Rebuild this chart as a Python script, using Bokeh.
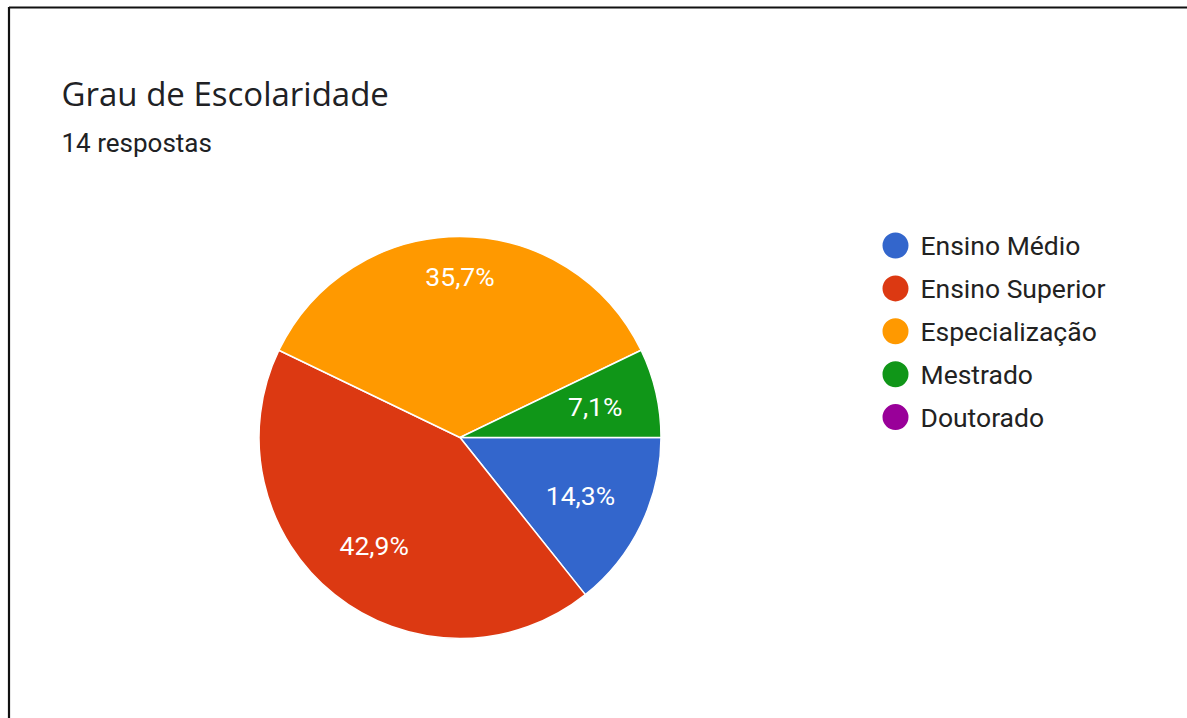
import math
from bokeh.plotting import figure
from bokeh.models import Range1d, ColumnDataSource
from bokeh.core.properties import value
from bokeh.embed import file_html
from bokeh.resources import INLINE

# ---- data ----
title_text = "Grau de Escolaridade"
subtitle_text = "14 respostas"
categories = ["Ensino Médio", "Ensino Superior", "Especialização", "Mestrado", "Doutorado"]
counts = [2, 6, 5, 1, 0]
colors = ["#3366CC", "#DC3912", "#FF9900", "#109618", "#990099"]

# ---- layout (pixel-like coordinates; y grows upward) ----
W, H = 1187, 718
def X(px):
    return px
def Y(py):
    return H - py

p = figure(width=W, height=H, output_backend="svg", toolbar_location=None,
           x_range=Range1d(0, W), y_range=Range1d(0, H), min_border=0)
p.axis.visible = False
p.grid.visible = False
p.outline_line_color = None
p.background_fill_color = "white"
p.border_fill_color = "white"

# frame border (left and top visible)
p.line([X(8.5), X(8.5)], [Y(6.5), Y(900)], line_color="#111111", line_width=2.2)
p.line([X(8.5), X(1300)], [Y(7), Y(7)], line_color="#111111", line_width=2.2)

# ---- pie ----
total = sum(counts)
cx, cy, r = X(459.5), Y(437), 201
fr = [c / total for c in counts]
cum = [0.0]
for f in fr:
    cum.append(cum[-1] + f)
idx = [i for i, c in enumerate(counts) if c > 0]
src = ColumnDataSource(dict(
    start=[-2 * math.pi * cum[i + 1] for i in idx],
    end=[-2 * math.pi * cum[i] for i in idx],
    color=[colors[i] for i in idx],
))
p.wedge(x=cx, y=cy, radius=r, start_angle="start", end_angle="end",
        fill_color="color", line_color="white", line_width=1.5, source=src)

# slice labels
label_rf = [0.665, 0.685, 0.80, 0.69]
lx, ly, lt = [], [], []
for k, i in enumerate(idx):
    mid = -2 * math.pi * (cum[i] + cum[i + 1]) / 2
    rr = r * label_rf[k]
    lx.append(cx + rr * math.cos(mid))
    ly.append(cy + rr * math.sin(mid))
    lt.append(f"{100 * counts[i] / total:.1f}%".replace(".", ","))
p.text(x=lx, y=ly, text=lt, text_color="white", text_font=value("Roboto"),
       text_font_size="26.5px", text_align="center", text_baseline="middle")

# ---- legend ----
ly0, dy = 245, 42.9
leg_y = [Y(ly0 + dy * i) for i in range(len(categories))]
p.scatter(x=[X(895)] * len(categories), y=leg_y, size=26, marker="circle",
          fill_color=colors, line_color=None)
p.text(x=[X(920)] * len(categories), y=leg_y, text=categories, text_color="#222222",
       text_font=value("Roboto"), text_font_size="26.5px", text_align="left",
       text_baseline="middle")

# ---- titles ----
p.text(x=[X(61)], y=[Y(93)], text=[title_text], text_color="#202124",
       text_font=value("Open Sans"), text_font_size="33px", text_baseline="middle")
p.text(x=[X(61)], y=[Y(142)], text=[subtitle_text], text_color="#202124",
       text_font=value("Roboto"), text_font_size="26px", text_baseline="middle")

open("out.html", "w").write(file_html(p, INLINE))
